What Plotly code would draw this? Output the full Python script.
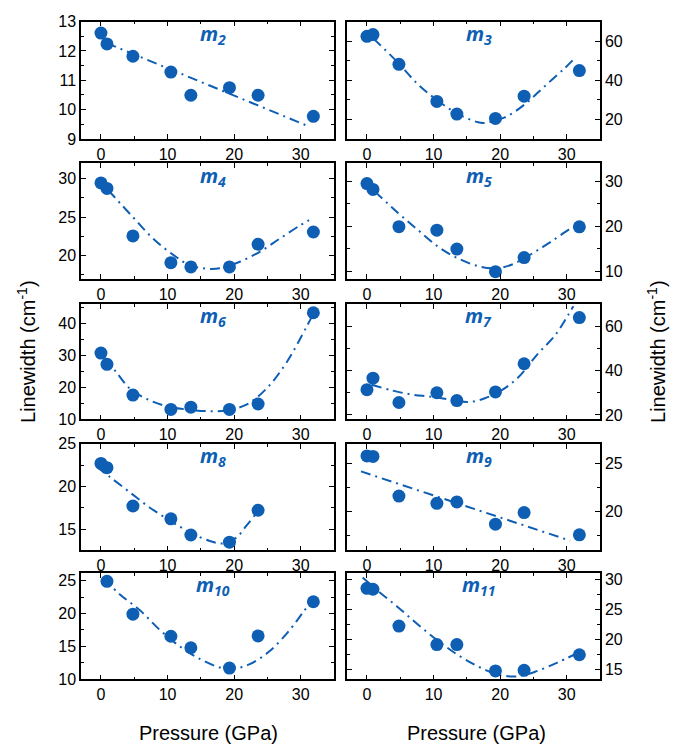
import plotly.graph_objects as go
from plotly.subplots import make_subplots

# ---------------- data ----------------
pressure = [0, 0.9, 4.8, 10.5, 13.5, 19.3, 23.6, 31.9]
pressure_m8 = [0, 0.9, 4.8, 10.5, 13.5, 19.3, 23.6]
pressure_m10 = [0.9, 4.8, 10.5, 13.5, 19.3, 23.6, 31.9]

m2 = [12.61, 12.24, 11.82, 11.28, 10.49, 10.75, 10.49, 9.77]
m3 = [62.5, 63.4, 48.2, 29.2, 22.7, 20.5, 31.9, 45.0]
m4 = [29.45, 28.74, 22.56, 19.08, 18.53, 18.53, 21.47, 23.07]
m5 = [29.5, 28.2, 19.9, 19.1, 14.9, 9.85, 13.0, 19.85]
m6 = [30.7, 27.2, 17.6, 13.1, 13.8, 13.1, 14.8, 43.3]
m7 = [31.4, 36.6, 25.6, 30.0, 26.5, 30.4, 43.1, 63.9]
m8 = [22.7, 22.2, 17.7, 16.2, 14.3, 13.45, 17.2]
m9 = [25.75, 25.7, 21.6, 20.85, 21.0, 18.7, 19.9, 17.6]
m10 = [24.9, 19.9, 16.55, 14.8, 11.7, 16.6, 21.8]
m11 = [28.5, 28.35, 22.2, 19.1, 19.1, 14.7, 14.8, 17.4]

# fitted curves
fit_m2_x = [0.85, 31.1]
fit_m2_y = [12.27, 9.44]
fit_m3_x = [1.0, 4.5, 7.7, 10.7, 13.7, 16.7, 17.7, 20.7, 23.7, 26.7, 29.7, 31.2]
fit_m3_y = [61.3, 49.6, 37.8, 29.4, 22.7, 18.5, 18.2, 21.0, 27.7, 37.0, 46.2, 51.3]
fit_m4_x = [1.1, 4.85, 7.85, 10.85, 13.35, 15.85, 17.85, 20.85, 23.85, 26.85, 29.85, 31.25]
fit_m4_y = [28.5, 24.96, 22.2, 20.1, 18.74, 18.3, 18.36, 19.2, 20.5, 22.2, 23.9, 24.6]
fit_m5_x = [1.2, 4.7, 7.7, 10.7, 13.7, 16.7, 19.2, 21.7, 24.7, 27.7, 30.6, 31.4]
fit_m5_y = [27.7, 22.9, 19.1, 15.4, 12.8, 11.1, 10.6, 11.4, 13.8, 16.6, 19.5, 20.0]
fit_m6_x = [0.6, 2.35, 4.35, 6.85, 9.85, 12.85, 15.85, 18.85, 21.85, 24.85, 27.85, 30.85, 31.85]
fit_m6_y = [29.2, 24.6, 19.6, 16.4, 14.1, 13.1, 12.6, 12.8, 14.6, 19.6, 27.7, 38.8, 42.8]
fit_m7_x = [0.7, 3.7, 6.7, 9.7, 12.7, 15.2, 17.7, 20.2, 22.7, 25.7, 28.2, 30.2, 31.0]
fit_m7_y = [33.6, 31.1, 29.2, 28.2, 26.8, 25.8, 27.5, 31.1, 36.9, 47.7, 55.7, 65.0, 69.0]
fit_m8_x = [-0.65, 1.35, 4.35, 7.35, 10.35, 13.35, 16.35, 18.35, 20.35, 21.85, 23.35, 23.85]
fit_m8_y = [22.3, 21.1, 19.3, 17.5, 16.0, 14.6, 13.6, 13.3, 14.0, 15.4, 16.9, 17.7]
fit_m9_x = [-0.9, 30.5]
fit_m9_y = [24.15, 17.0]
fit_m10_x = [0.35, 2.85, 5.85, 8.85, 11.85, 14.85, 17.85, 19.85, 22.35, 25.35, 28.35, 30.35, 31.85]
fit_m10_y = [25.4, 22.9, 20.5, 17.5, 15.0, 13.1, 11.8, 11.6, 12.3, 14.3, 17.5, 20.2, 22.2]
fit_m11_x = [-0.65, 1.6, 4.6, 7.6, 10.6, 13.6, 16.6, 19.6, 22.6, 25.6, 28.6, 31.1]
fit_m11_y = [30.3, 28.1, 25.4, 22.5, 19.8, 17.4, 15.5, 14.1, 13.8, 14.7, 16.1, 17.4]

panel_names = ["2", "3", "4", "5", "6", "7", "8", "9", "10", "11"]

x_ticks = [0, 10, 20, 30]

# ---------------- styling ----------------
BLUE = "#0e5fb4"
FONT = "Liberation Sans, Arial, sans-serif"

panels = [
    (pressure, m2, fit_m2_x, fit_m2_y, [9, 13], 1, 0.5),
    (pressure, m3, fit_m3_x, fit_m3_y, [10, 70], 20, 10),
    (pressure, m4, fit_m4_x, fit_m4_y, [17, 32], 5, 2.5),
    (pressure, m5, fit_m5_x, fit_m5_y, [8.3, 34], 10, 5),
    (pressure, m6, fit_m6_x, fit_m6_y, [10, 46], 10, 5),
    (pressure, m7, fit_m7_x, fit_m7_y, [18, 70], 20, 10),
    (pressure_m8, m8, fit_m8_x, fit_m8_y, [12.5, 25], 5, 2.5),
    (pressure, m9, fit_m9_x, fit_m9_y, [16, 27], 5, 2.5),
    (pressure_m10, m10, fit_m10_x, fit_m10_y, [10, 26.2], 5, 2.5),
    (pressure, m11, fit_m11_x, fit_m11_y, [13.3, 31.1], 5, 2.5),
]

W, H = 690, 744
col_px = [(81, 334), (347, 600)]
row_px = [(14, 134), (159, 277), (303, 421), (446, 555), (578, 687)]

fig = make_subplots(rows=5, cols=2)

for i, (px, py, fx, fy, yr, dt, mdt) in enumerate(panels):
    r = i // 2 + 1
    c = i % 2 + 1
    fig.add_trace(go.Scatter(x=fx, y=fy, mode="lines", line_shape="spline",
                             line=dict(color=BLUE, width=2, dash="10px,5px,2px,5px"),
                             showlegend=False, hoverinfo="skip"), row=r, col=c)
    fig.add_trace(go.Scatter(x=px, y=py, mode="markers",
                             marker=dict(color=BLUE, size=13),
                             showlegend=False, cliponaxis=False), row=r, col=c)
    x0, x1 = col_px[c - 1]
    y0, y1 = row_px[r - 1]
    fig.update_xaxes(domain=[x0 / W, x1 / W], range=[-3, 35],
                     tickvals=x_ticks, ticks="inside", ticklen=5, tickwidth=1.3,
                     minor=dict(dtick=5, tick0=0, ticks="inside", ticklen=3, tickwidth=1.3, tickcolor="black"),
                     showline=True, linecolor="black", linewidth=1.5, mirror="ticks",
                     showgrid=False, zeroline=False, tickcolor="black",
                     tickfont=dict(family=FONT, size=16, color="black"),
                     row=r, col=c)
    fig.update_yaxes(domain=[1 - y1 / H, 1 - y0 / H], range=yr,
                     dtick=dt, tick0=0, ticks="inside", ticklen=5, tickwidth=1.3,
                     minor=dict(dtick=mdt, tick0=0, ticks="inside", ticklen=3, tickwidth=1.3, tickcolor="black"),
                     showline=True, linecolor="black", linewidth=1.5, mirror="ticks",
                     showgrid=False, zeroline=False, tickcolor="black",
                     side="left" if c == 1 else "right",
                     tickfont=dict(family=FONT, size=16, color="black"),
                     row=r, col=c)
    # panel label
    fig.add_annotation(x=(x0 + 0.52 * (x1 - x0)) / W, y=1 - (y0 + 13) / H,
                       xref="paper", yref="paper", showarrow=False,
                       xanchor="center", yanchor="middle",
                       text="<b><i>m<sub>%s</sub></i></b>" % panel_names[i],
                       font=dict(family="Open Sans, sans-serif", size=20, color=BLUE))

# axis titles
fig.add_annotation(x=27 / W, y=1 - 352 / H, xref="paper", yref="paper", showarrow=False,
                   xanchor="center", yanchor="middle",
                   text="Linewidth (cm<sup>-1</sup>)", textangle=-90,
                   font=dict(family=FONT, size=20, color="black"))
fig.add_annotation(x=657 / W, y=1 - 352 / H, xref="paper", yref="paper", showarrow=False,
                   xanchor="center", yanchor="middle",
                   text="Linewidth (cm<sup>-1</sup>)", textangle=-90,
                   font=dict(family=FONT, size=20, color="black"))
fig.add_annotation(x=208 / W, y=1 - 742 / H, xref="paper", yref="paper", showarrow=False,
                   xanchor="center", yanchor="middle",
                   text="Pressure (GPa)", font=dict(family=FONT, size=20, color="black"))
fig.add_annotation(x=476 / W, y=1 - 742 / H, xref="paper", yref="paper", showarrow=False,
                   xanchor="center", yanchor="middle",
                   text="Pressure (GPa)", font=dict(family=FONT, size=20, color="black"))

fig.update_layout(width=W, height=H, margin=dict(l=0, r=0, t=0, b=0),
                  plot_bgcolor="white", paper_bgcolor="white",
                  font=dict(family=FONT, color="black"))

fig.write_html("out.html", config={"displayModeBar": False},
               post_script="document.body.style.margin='0';document.body.style.overflow='hidden';")
